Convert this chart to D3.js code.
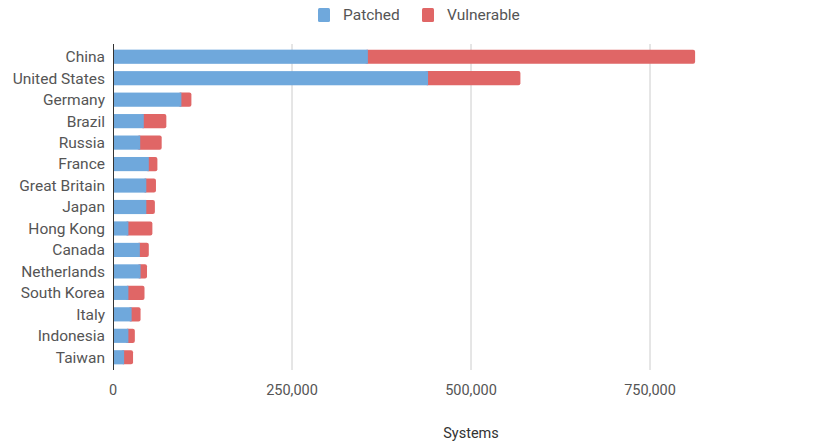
<!DOCTYPE html>
<html>
<head>
<meta charset="utf-8">
<script src="https://cdn.jsdelivr.net/npm/d3@7"></script>
<style>
  body { margin: 0; background: #fff; }
  text { font-family: Roboto, "Noto Sans", sans-serif; }
</style>
</head>
<body>
<div id="chart"></div>
<script>
// data
const countries = ["China", "United States", "Germany", "Brazil", "Russia", "France",
  "Great Britain", "Japan", "Hong Kong", "Canada", "Netherlands", "South Korea",
  "Italy", "Indonesia", "Taiwan"];
const patched = [356000, 440000, 95500, 43000, 38000, 50000, 46500, 46500, 21500,
  37500, 38500, 21500, 26000, 21500, 15500];
const vulnerable = [457000, 129000, 14000, 31500, 30000, 12000, 13500, 12000, 33500,
  12500, 9000, 22500, 12500, 9000, 12500];
const xTicks = [0, 250000, 500000, 750000];

const width = 823, height = 442;
const margin = { top: 46, right: 50, bottom: 74, left: 113 };
const colors = { patched: "#6fa8dc", vulnerable: "#e06666" };

const svg = d3.select("#chart").append("svg")
  .attr("width", width).attr("height", height);

const x = d3.scaleLinear()
  .domain([0, 1000000])
  .range([margin.left, margin.left + 716]);

const y = d3.scaleBand()
  .domain(countries)
  .range([margin.top, height - margin.bottom])
  .paddingInner(0.34)
  .paddingOuter(0.17);

// gridlines
svg.append("g")
  .selectAll("line")
  .data(xTicks.slice(1))
  .enter().append("line")
  .attr("x1", d => x(d)).attr("x2", d => x(d))
  .attr("y1", margin.top - 2).attr("y2", height - margin.bottom + 2)
  .attr("stroke", "#cccccc").attr("stroke-width", 1);

const rows = countries.map((c, i) => ({ c, p: patched[i], v: vulnerable[i] }));

// vulnerable segment (rounded end), drawn behind
svg.append("g")
  .selectAll("rect")
  .data(rows)
  .enter().append("rect")
  .attr("x", d => x(d.p) - 3)
  .attr("y", d => y(d.c))
  .attr("width", d => x(d.p + d.v) - x(d.p) + 3)
  .attr("height", y.bandwidth())
  .attr("rx", 2)
  .attr("fill", colors.vulnerable);

// patched segment
svg.append("g")
  .selectAll("rect")
  .data(rows)
  .enter().append("rect")
  .attr("x", x(0))
  .attr("y", d => y(d.c))
  .attr("width", d => x(d.p) - x(0))
  .attr("height", y.bandwidth())
  .attr("fill", colors.patched);

// baseline
svg.append("line")
  .attr("x1", x(0) + 0.5).attr("x2", x(0) + 0.5)
  .attr("y1", margin.top - 2).attr("y2", height - margin.bottom + 2)
  .attr("stroke", "#333").attr("stroke-width", 1);

// y labels
svg.append("g")
  .selectAll("text")
  .data(countries)
  .enter().append("text")
  .attr("x", x(0) - 8)
  .attr("y", d => y(d) + y.bandwidth() / 2)
  .attr("dy", "0.35em")
  .attr("text-anchor", "end")
  .attr("font-size", 15.5)
  .attr("fill", "#555")
  .text(d => d);

// x tick labels
svg.append("g")
  .selectAll("text")
  .data(xTicks)
  .enter().append("text")
  .attr("x", d => x(d))
  .attr("y", 395)
  .attr("text-anchor", "middle")
  .attr("font-size", 14.5)
  .attr("fill", "#555")
  .text(d => d3.format(",")(d));

// axis title
svg.append("text")
  .attr("x", x(500000))
  .attr("y", 438)
  .attr("text-anchor", "middle")
  .attr("font-size", 14.5)
  .attr("fill", "#333")
  .text("Systems");

// legend
const legend = [["Patched", colors.patched, 318], ["Vulnerable", colors.vulnerable, 422]];
const lg = svg.append("g").selectAll("g").data(legend).enter().append("g");
lg.append("rect")
  .attr("x", d => d[2]).attr("y", 8)
  .attr("width", 12).attr("height", 14).attr("rx", 1.5)
  .attr("fill", d => d[1]);
lg.append("text")
  .attr("x", d => d[2] + 25).attr("y", 15)
  .attr("dy", "0.35em")
  .attr("font-size", 15.5)
  .attr("fill", "#555")
  .text(d => d[0]);
</script>
</body>
</html>
